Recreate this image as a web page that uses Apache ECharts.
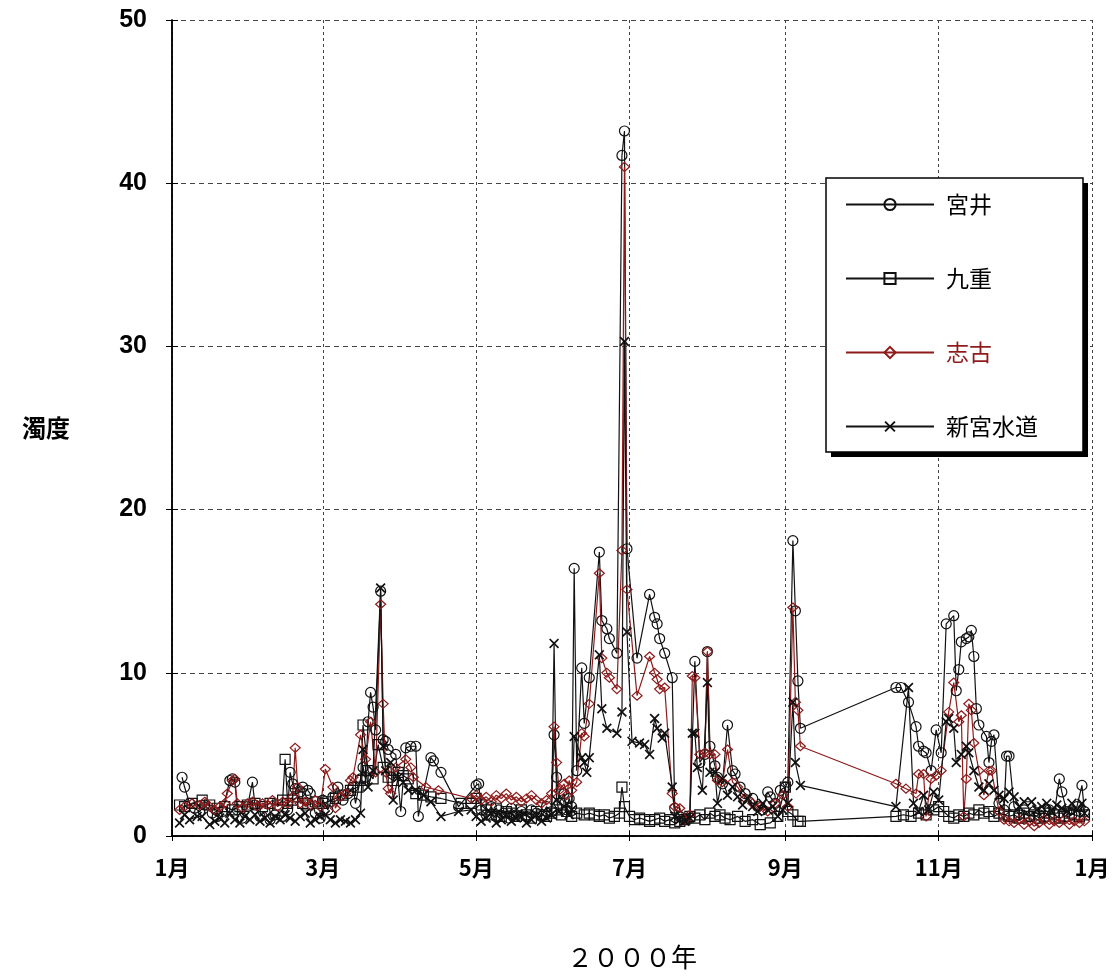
<!DOCTYPE html>
<html><head><meta charset="utf-8">
<script src="https://cdn.jsdelivr.net/npm/echarts@6/dist/echarts.min.js"></script>
<style>html,body{margin:0;padding:0;background:#fff}#c{width:1117px;height:979px}</style>
</head><body><div id="c"></div>
<script>
const seriesNames = ['宮井', '九重', '志古', '新宮水道'];
const xTickDates = ['2000/1/1', '2000/3/1', '2000/5/1', '2000/7/1', '2000/9/1', '2000/11/1', '2001/1/1'];
const xTickLabels = ['1月', '3月', '5月', '7月', '9月', '11月', '1月'];
const yMin = 0, yMax = 50, yStep = 10;
const xAxisName = '２０００年';
const yAxisName = '濁度';

const miyai = [
['1/5',3.6],['1/6',3.0],['1/8',2.0],['1/10',1.7],['1/12',1.5],['1/14',1.9],['1/17',1.4],['1/19',1.2],['1/21',1.5],['1/24',3.4],['1/25',3.5],['1/26',3.3],['1/27',1.6],['1/29',1.1],['1/31',1.8],
['2/2',3.3],['2/3',1.9],['2/5',1.2],['2/7',1.5],['2/9',1.0],['2/11',1.3],['2/14',1.2],['2/16',1.6],['2/17',3.9],['2/18',3.2],['2/19',2.9],['2/21',2.7],['2/22',3.0],['2/24',2.8],['2/25',2.6],['2/27',1.4],['2/29',1.1],
['3/1',2.2],['3/3',1.6],['3/5',2.4],['3/7',3.0],['3/9',2.2],['3/11',2.6],['3/13',3.0],['3/14',2.0],['3/16',3.5],['3/17',4.2],['3/18',3.6],['3/19',7.0],['3/20',8.8],['3/21',7.9],['3/22',6.5],['3/24',15.0],['3/25',5.9],['3/26',5.8],['3/27',5.3],['3/30',5.0],
['4/1',1.5],['4/3',5.4],['4/5',5.5],['4/7',5.5],['4/8',1.2],['4/13',4.8],['4/14',4.6],['4/17',3.9],['4/24',1.8],
['5/1',3.1],['5/2',3.2],['5/3',1.6],['5/5',1.3],['5/7',1.8],['5/9',1.2],['5/10',1.6],['5/12',1.4],['5/14',1.1],['5/15',1.7],['5/17',1.3],['5/19',1.5],['5/21',1.2],['5/23',1.6],['5/25',1.4],['5/27',1.2],['5/29',1.8],['5/31',1.5],
['6/1',6.2],['6/2',3.6],['6/3',2.0],['6/5',2.6],['6/6',1.6],['6/7',2.3],['6/8',1.8],['6/9',16.4],['6/10',4.0],['6/12',10.3],['6/13',6.9],['6/15',9.7],['6/19',17.4],['6/20',13.2],['6/22',12.7],['6/23',12.1],['6/26',11.2],['6/28',41.7],['6/29',43.2],['6/30',17.6],
['7/4',10.9],['7/9',14.8],['7/11',13.4],['7/12',13.0],['7/13',12.1],['7/15',11.2],['7/18',9.7],['7/19',1.7],['7/21',1.2],['7/23',1.0],['7/25',1.1],['7/27',10.7],['7/29',4.5],['7/31',5.0],
['8/1',11.3],['8/2',5.5],['8/4',4.3],['8/5',3.6],['8/7',3.2],['8/9',6.8],['8/11',4.0],['8/12',3.8],['8/14',3.0],['8/16',2.6],['8/19',2.3],['8/21',1.8],['8/23',1.6],['8/25',2.7],['8/26',2.4],['8/28',2.0],['8/30',2.8],
['9/1',3.0],['9/2',3.3],['9/4',18.1],['9/5',13.8],['9/6',9.5],['9/7',6.6],
['10/15',9.1],['10/17',9.1],['10/20',8.2],['10/23',6.7],['10/24',5.5],['10/26',5.2],['10/27',5.1],['10/29',4.0],['10/31',6.5],
['11/2',5.1],['11/4',13.0],['11/7',13.5],['11/8',8.9],['11/9',10.2],['11/10',11.9],['11/12',12.1],['11/13',12.2],['11/14',12.6],['11/15',11.0],['11/16',7.8],['11/17',6.8],['11/20',6.1],['11/21',4.5],['11/22',5.8],['11/23',6.2],['11/25',2.0],['11/27',1.6],['11/28',4.9],['11/29',4.9],
['12/1',1.8],['12/3',1.3],['12/5',1.6],['12/7',1.2],['12/9',1.5],['12/11',1.3],['12/13',1.1],['12/15',1.6],['12/17',1.4],['12/19',3.5],['12/20',2.7],['12/22',1.5],['12/24',1.3],['12/26',1.8],['12/28',3.1],['12/29',1.5]
];

const kokonoe = [
['1/4',1.9],['1/6',1.8],['1/9',2.0],['1/13',2.2],['1/16',1.9],['1/19',1.7],['1/22',1.8],['1/25',1.6],['1/28',1.8],['1/31',1.9],
['2/3',2.0],['2/6',1.8],['2/9',2.0],['2/12',1.9],['2/14',2.2],['2/15',4.7],['2/16',2.0],['2/18',2.2],['2/20',2.4],['2/22',2.0],['2/24',1.9],['2/27',2.1],
['3/1',2.0],['3/3',2.1],['3/6',2.3],['3/9',2.5],['3/12',2.8],['3/15',3.0],['3/16',3.4],['3/17',6.8],['3/19',4.0],['3/21',3.5],['3/23',5.6],['3/25',4.2],['3/27',3.6],['3/29',3.4],['3/31',3.9],
['4/2',3.7],['4/4',3.5],['4/7',2.6],['4/10',2.5],['4/13',2.4],['4/17',2.3],['4/25',2.0],['4/29',2.0],
['5/1',2.3],['5/3',1.9],['5/5',1.6],['5/7',1.3],['5/9',1.7],['5/11',1.2],['5/13',1.5],['5/15',1.4],['5/17',1.2],['5/19',1.6],['5/21',1.3],['5/23',1.1],['5/25',1.5],['5/27',1.3],['5/29',1.2],['5/31',1.4],
['6/2',1.6],['6/4',1.3],['6/6',1.5],['6/8',1.2],['6/10',1.4],['6/13',1.3],['6/15',1.4],['6/17',1.3],['6/19',1.2],['6/21',1.3],['6/23',1.1],['6/25',1.2],['6/27',1.4],['6/28',3.0],['6/29',1.8],
['7/1',1.2],['7/3',1.0],['7/5',1.1],['7/7',1.0],['7/9',0.9],['7/11',1.0],['7/13',1.1],['7/15',0.9],['7/17',1.0],['7/19',0.8],['7/21',0.9],['7/23',1.0],['7/25',1.2],['7/27',1.1],['7/29',1.3],['7/31',1.0],
['8/2',1.4],['8/4',1.2],['8/6',1.3],['8/8',1.1],['8/10',1.0],['8/13',1.2],['8/16',0.9],['8/19',1.0],['8/22',0.7],['8/26',0.8],['8/29',1.2],
['9/1',3.0],['9/2',1.5],['9/4',1.3],['9/6',0.9],['9/7',0.9],
['10/15',1.2],['10/18',1.3],['10/21',1.2],['10/24',1.4],['10/27',1.3],['10/30',1.6],
['11/1',1.8],['11/3',1.5],['11/5',1.2],['11/7',1.1],['11/9',1.3],['11/11',1.2],['11/13',1.4],['11/15',1.3],['11/17',1.6],['11/19',1.4],['11/21',1.5],['11/23',1.2],['11/25',1.4],['11/27',1.3],['11/29',1.2],
['12/1',1.3],['12/3',1.1],['12/5',1.4],['12/7',1.2],['12/9',1.3],['12/11',1.1],['12/13',1.2],['12/15',1.4],['12/17',1.3],['12/19',1.1],['12/21',1.2],['12/23',1.4],['12/25',1.3],['12/27',1.2],['12/29',1.3]
];

const shiko = [
['1/4',1.6],['1/6',1.8],['1/9',2.0],['1/12',1.9],['1/14',2.1],['1/16',1.8],['1/18',1.6],['1/20',1.8],['1/22',2.0],['1/23',2.6],['1/25',3.4],['1/26',3.5],['1/27',2.0],['1/29',1.7],['1/31',2.0],
['2/2',2.1],['2/4',1.8],['2/6',2.0],['2/8',1.9],['2/10',2.2],['2/12',1.8],['2/14',2.1],['2/16',2.0],['2/18',2.4],['2/19',5.4],['2/20',3.0],['2/21',2.0],['2/23',2.1],['2/25',1.9],['2/27',2.2],['2/29',1.8],
['3/2',4.1],['3/5',3.0],['3/6',1.7],['3/8',2.4],['3/10',2.6],['3/12',3.4],['3/13',3.6],['3/16',6.2],['3/18',4.7],['3/20',7.0],['3/22',3.9],['3/24',14.2],['3/25',8.1],['3/26',3.9],['3/27',2.9],['3/28',2.6],['3/30',4.2],
['4/3',4.7],['4/5',4.2],['4/6',3.6],['4/11',3.0],['4/16',2.8],['4/29',2.3],
['5/1',2.5],['5/3',2.2],['5/5',2.4],['5/7',2.1],['5/9',2.5],['5/11',2.3],['5/13',2.6],['5/15',2.2],['5/17',2.4],['5/19',2.1],['5/21',2.3],['5/23',2.5],['5/25',2.2],['5/27',2.0],['5/29',2.2],['5/31',2.6],
['6/1',6.7],['6/2',4.5],['6/3',2.8],['6/5',3.2],['6/6',2.5],['6/7',3.4],['6/8',2.8],['6/10',3.3],['6/12',6.3],['6/13',6.1],['6/15',8.1],['6/19',16.1],['6/20',10.9],['6/22',10.0],['6/23',9.7],['6/26',9.0],['6/28',17.5],['6/29',41.0],['6/30',15.1],
['7/4',8.6],['7/9',11.0],['7/11',10.0],['7/12',9.6],['7/13',9.0],['7/15',9.1],['7/18',2.6],['7/19',1.8],['7/21',1.7],['7/23',1.0],['7/25',1.3],['7/26',9.8],['7/27',9.7],['7/29',5.0],['7/31',5.1],
['8/1',11.3],['8/2',5.0],['8/4',5.0],['8/5',3.4],['8/7',3.3],['8/9',5.3],['8/11',3.3],['8/13',3.0],['8/16',2.3],['8/19',2.0],['8/22',1.8],['8/25',1.5],['8/28',2.0],['8/31',2.5],
['9/2',1.8],['9/4',14.0],['9/5',8.2],['9/6',7.7],['9/7',5.5],
['10/15',3.2],['10/19',2.9],['10/23',2.6],['10/24',3.8],['10/26',3.8],['10/27',1.2],['10/29',3.5],['10/31',3.7],
['11/2',4.0],['11/5',7.6],['11/7',9.4],['11/9',7.0],['11/10',7.4],['11/11',1.2],['11/12',3.5],['11/13',8.1],['11/14',7.7],['11/15',5.7],['11/17',4.0],['11/19',2.5],['11/21',4.0],['11/22',4.0],['11/25',1.5],['11/27',1.0],['11/29',0.9],
['12/1',0.8],['12/3',1.0],['12/5',0.7],['12/7',0.9],['12/9',0.6],['12/11',0.8],['12/13',1.0],['12/15',0.7],['12/17',0.9],['12/19',0.8],['12/21',1.0],['12/23',0.7],['12/25',0.9],['12/27',0.8],['12/29',0.9]
];

const shinguSuido = [
['1/4',0.8],['1/6',1.3],['1/8',1.0],['1/11',1.2],['1/13',1.2],['1/16',0.7],['1/18',0.9],['1/20',1.1],['1/22',0.8],['1/24',1.4],['1/26',1.0],['1/28',0.8],['1/30',1.2],
['2/1',1.0],['2/3',1.3],['2/5',0.9],['2/7',1.1],['2/9',0.8],['2/11',1.2],['2/13',1.0],['2/15',1.3],['2/17',1.1],['2/19',0.9],['2/21',1.2],['2/23',1.4],['2/25',0.8],['2/27',1.0],['2/29',1.2],
['3/2',1.3],['3/4',1.0],['3/6',0.8],['3/8',1.0],['3/10',0.9],['3/12',0.8],['3/14',1.0],['3/16',1.4],['3/17',5.3],['3/19',3.0],['3/21',4.0],['3/24',15.2],['3/25',5.5],['3/26',4.0],['3/28',4.5],['3/29',2.2],['3/31',3.6],
['4/2',3.3],['4/4',2.8],['4/7',2.8],['4/10',2.5],['4/13',2.1],['4/17',1.2],['4/24',1.5],['4/29',1.6],
['5/1',1.2],['5/3',0.9],['5/5',1.1],['5/7',1.4],['5/9',0.8],['5/11',1.0],['5/13',1.3],['5/15',0.9],['5/17',1.1],['5/19',1.2],['5/21',0.8],['5/23',1.0],['5/25',1.3],['5/27',0.9],['5/29',1.1],['5/31',1.3],
['6/1',11.8],['6/2',2.2],['6/3',1.5],['6/5',1.8],['6/7',1.3],['6/8',1.6],['6/9',6.1],['6/12',4.8],['6/13',4.5],['6/14',3.9],['6/15',4.8],['6/19',11.1],['6/20',7.8],['6/22',6.6],['6/26',6.3],['6/28',7.6],['6/29',30.3],['6/30',12.5],
['7/2',5.8],['7/5',5.7],['7/7',5.6],['7/9',5.0],['7/11',7.2],['7/12',6.6],['7/14',6.0],['7/15',6.3],['7/18',3.0],['7/19',1.2],['7/21',1.0],['7/23',0.9],['7/25',1.1],['7/26',6.3],['7/27',6.3],['7/28',4.2],['7/30',2.8],
['8/1',9.4],['8/2',3.9],['8/4',3.9],['8/5',2.0],['8/7',3.5],['8/9',2.5],['8/11',3.0],['8/13',2.4],['8/15',1.9],['8/17',2.3],['8/19',1.8],['8/21',1.5],['8/23',2.0],['8/25',1.6],['8/27',1.8],['8/29',1.2],['8/31',1.6],
['9/2',2.0],['9/4',8.2],['9/5',4.5],['9/7',3.1],
['10/15',1.8],['10/20',9.1],['10/22',2.0],['10/24',1.5],['10/26',2.5],['10/28',1.6],['10/30',2.7],
['11/1',2.2],['11/4',7.0],['11/5',7.2],['11/7',6.6],['11/8',4.5],['11/10',5.0],['11/12',5.5],['11/13',5.1],['11/15',4.0],['11/17',3.0],['11/19',2.8],['11/21',3.2],['11/23',2.8],['11/25',2.5],['11/27',2.3],['11/29',2.7],
['12/1',2.4],['12/3',1.8],['12/5',2.1],['12/8',2.1],['12/10',1.6],['12/12',1.8],['12/14',2.0],['12/16',1.5],['12/18',1.9],['12/20',1.7],['12/22',1.5],['12/24',2.0],['12/26',1.6],['12/28',2.0],['12/29',1.4]
];

const base = Date.UTC(2000, 0, 1);
function dayOf(s) {
  const p = s.split('/').map(Number);
  const y = p.length === 3 ? p[0] : 2000;
  const m = p.length === 3 ? p[1] : p[0];
  const d = p.length === 3 ? p[2] : p[1];
  return (Date.UTC(y, m - 1, d) - base) / 86400000;
}
const xTickDays = xTickDates.map(dayOf);
const toData = arr => arr.map(r => [dayOf(r[0]), r[1]]);
const xMin = xTickDays[0], xMax = xTickDays[xTickDays.length - 1];

const RED = '#8e1a1a';
const crossPath = 'path://M0,1.2L1.2,0L5,3.8L8.8,0L10,1.2L6.2,5L10,8.8L8.8,10L5,6.2L1.2,10L0,8.8L3.8,5Z';

function mk(name, arr, symbol, size, color, filled) {
  return {
    name, type: 'line', data: toData(arr), symbol, symbolSize: size,
    xAxisIndex: 0, yAxisIndex: 0,
    lineStyle: { color, width: 1.2 },
    itemStyle: filled ? { color } : { color: 'rgba(255,255,255,0)', borderColor: color, borderWidth: 1.2 },
    emphasis: { disabled: true }
  };
}

const chart = echarts.init(document.getElementById('c'), null, { renderer: 'canvas' });
const labelMap = {};
xTickDays.forEach((d, i) => labelMap[d] = xTickLabels[i]);

// legend frame with hard drop shadow
const LB = { x: 826, y: 178, w: 257, h: 274, off: 5 };

chart.setOption({
  animation: false,
  backgroundColor: '#fff',
  grid: { left: 172, right: 25, top: 20, bottom: 143, containLabel: false },
  graphic: [
    { type: 'rect', z: 3, silent: true, shape: { x: LB.x + LB.off, y: LB.y + LB.off, width: LB.w, height: LB.h }, style: { fill: '#000' } },
    { type: 'rect', z: 3, silent: true, shape: { x: LB.x, y: LB.y, width: LB.w, height: LB.h }, style: { fill: '#fff', stroke: '#000', lineWidth: 1.5 } }
  ],
  legend: {
    orient: 'vertical', left: 845, top: 193, z: 5,
    selectedMode: false,
    itemWidth: 88, itemHeight: 14, itemGap: 51,
    padding: 0,
    textStyle: { fontFamily: 'Noto Sans CJK JP', fontSize: 23, color: '#000', padding: [0, 0, 0, 7] },
    data: [
      { name: seriesNames[0] },
      { name: seriesNames[1] },
      { name: seriesNames[2], textStyle: { color: RED } },
      { name: seriesNames[3] }
    ]
  },
  xAxis: [{
    type: 'value', min: xMin, max: xMax, position: 'bottom',
    name: xAxisName, nameLocation: 'middle', nameGap: 108,
    nameTextStyle: { fontFamily: 'Noto Sans CJK JP', fontSize: 26, color: '#000' },
    axisLine: { show: true, lineStyle: { color: '#000', width: 1.5 } },
    axisTick: { show: true, inside: true, length: 5, customValues: xTickDays, lineStyle: { color: '#000' } },
    axisLabel: { show: true, customValues: xTickDays, margin: 21, color: '#000',
      fontFamily: 'Noto Sans CJK JP', fontWeight: 'bold', fontSize: 22,
      formatter: v => labelMap[v] },
    splitLine: { show: true, lineStyle: { color: '#444', width: 1, type: [3, 3] } }
  }, {
    type: 'value', min: xMin, max: xMax, position: 'top',
    axisLine: { show: true, lineStyle: { color: '#000', width: 1.5 } },
    axisTick: { show: true, inside: true, length: 5, customValues: xTickDays, lineStyle: { color: '#000' } },
    axisLabel: { show: false }, splitLine: { show: false }
  }],
  yAxis: [{
    type: 'value', min: yMin, max: yMax, interval: yStep, position: 'left',
    name: yAxisName, nameLocation: 'middle', nameRotate: 0, nameGap: 102,
    nameTextStyle: { fontFamily: 'Noto Sans CJK JP', fontSize: 24, color: '#000', fontWeight: 'bold' },
    axisLine: { show: true, lineStyle: { color: '#000', width: 1.5 } },
    axisTick: { show: true, inside: true, length: 6, lineStyle: { color: '#000' } },
    axisLabel: { show: true, margin: 25, color: '#000', fontFamily: 'Liberation Sans', fontWeight: 'bold', fontSize: 25 },
    splitLine: { show: true, lineStyle: { color: '#444', width: 1, type: [5, 4] } }
  }, {
    type: 'value', min: yMin, max: yMax, interval: yStep, position: 'right',
    axisLine: { show: true, lineStyle: { color: '#000', width: 1.5 } },
    axisTick: { show: true, inside: true, length: 6, lineStyle: { color: '#000' } },
    axisLabel: { show: false }, splitLine: { show: false }
  }],
  series: [
    mk(seriesNames[0], miyai, 'circle', 10, '#111', false),
    mk(seriesNames[1], kokonoe, 'rect', 10, '#111', false),
    mk(seriesNames[2], shiko, 'diamond', [10, 9], RED, false),
    mk(seriesNames[3], shinguSuido, crossPath, 10, '#111', true)
  ]
});
</script>
</body></html>
